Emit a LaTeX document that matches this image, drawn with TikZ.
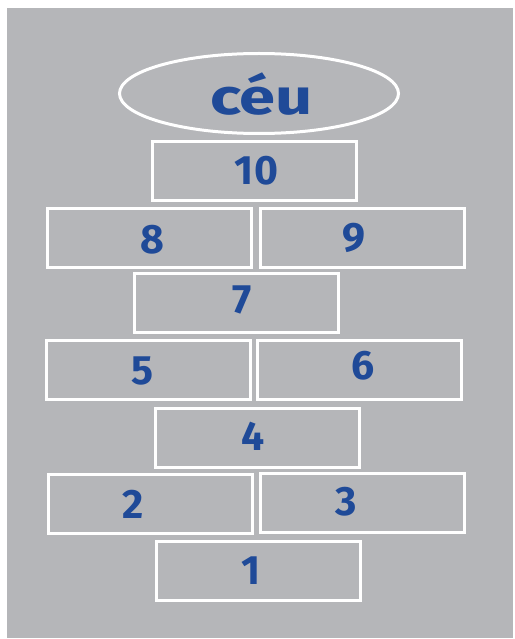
\documentclass[tikz,border=0pt]{standalone}
\usepackage{fontspec}
\setmainfont{Fira Sans}
\usepackage{xcolor}
\usetikzlibrary{shapes.geometric, positioning}

\definecolor{chao}{HTML}{B5B6B9}
\definecolor{giz}{HTML}{1F4A98}

\begin{document}
\begin{tikzpicture}[
    x=1pt, y=-1pt,
    casa/.style={draw=white, line width=3pt, minimum width=204pt, minimum height=59pt, inner sep=0pt},
    num/.style={text=giz, font=\fontsize{41}{41}\selectfont\bfseries},
]

% background
\useasboundingbox (0,0) rectangle (514,639);
\fill[white] (0,0) rectangle (514,639);
\fill[chao] (7,8) rectangle (513,638);

% ceu
\node[ellipse, draw=white, line width=3pt, minimum width=279pt, minimum height=80pt] (ceu) at (259,93.5) {};
\node[text=giz, font=\fontsize{50}{50}\selectfont\bfseries, xscale=1.3] (lceu) at (261.5,94) {céu};

% squares
\node[casa] (c10) at (254.5,171) {};
\node[casa] (c8) at (149,238) {};
\node[casa] (c9) at (362,238) {};
\node[casa] (c7) at (236,303) {};
\node[casa] (c5) at (148.5,369.5) {};
\node[casa] (c6) at (359,369.5) {};
\node[casa] (c4) at (257.5,437.5) {};
\node[casa] (c2) at (150,504) {};
\node[casa] (c3) at (362,503) {};
\node[casa] (c1) at (258.5,571) {};

% numbers
\node[num] (l10) at (256.5,171) {10};
\node[num] (l8) at (152,239.5) {8};
\node[num] (l9) at (353.5,238) {9};
\node[num] (l7) at (242.5,300) {7};
\node[num] (l5) at (142.5,371) {5};
\node[num] (l6) at (363,366) {6};
\node[num] (l4) at (253,436) {4};
\node[num] (l2) at (133.5,504.5) {2};
\node[num] (l3) at (346.5,501.5) {3};
\node[num] (l1) at (251,571) {1};

\end{tikzpicture}
\end{document}
